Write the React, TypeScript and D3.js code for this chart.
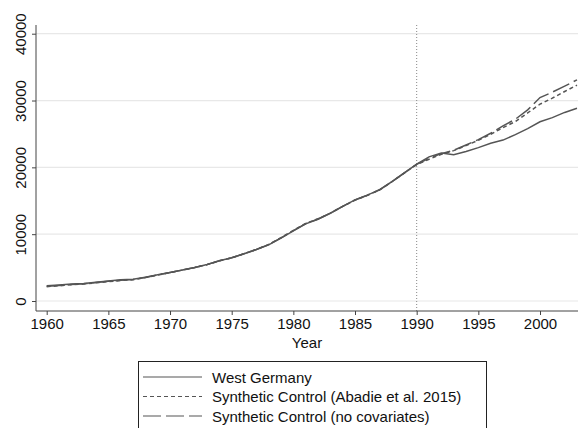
import { useRef, useEffect } from 'react';
import * as d3 from 'd3';

const years = d3.range(1960, 2004);

// GDP per capita, West Germany (observed)
const westGermany = [
  2284, 2388, 2527, 2610, 2806, 3005, 3168, 3241, 3571, 3935,
  4275, 4646, 5010, 5453, 6025, 6470, 7063, 7705, 8409, 9418,
  10497, 11545, 12242, 13128, 14162, 15140, 15845, 16657, 17872, 19188,
  20468, 21566, 22139, 21881, 22382, 22955, 23617, 24079, 24901, 25786,
  26816, 27437, 28218, 28855,
];

// Synthetic control, Abadie et al. (2015)
const synthAbadie = [
  2150, 2280, 2420, 2540, 2720, 2900, 3060, 3180, 3500, 3880,
  4250, 4620, 5000, 5440, 6010, 6460, 7060, 7720, 8460, 9480,
  10560, 11600, 12300, 13150, 14150, 15100, 15800, 16620, 17850, 19150,
  20420, 21200, 21950, 22500, 23250, 24050, 24950, 25950, 26850, 28150,
  29450, 30350, 31350, 32300,
];

// Synthetic control, no covariates
const synthNoCov = [
  2200, 2330, 2470, 2580, 2760, 2950, 3110, 3210, 3530, 3900,
  4260, 4630, 5005, 5445, 6015, 6465, 7060, 7710, 8430, 9440,
  10520, 11570, 12270, 13140, 14160, 15120, 15830, 16640, 17860, 19170,
  20450, 21350, 22050, 22550, 23350, 24150, 25100, 26200, 27200, 28600,
  30450, 31250, 32150, 33100,
];

const yTicks = [0, 10000, 20000, 30000, 40000];
const xTicks = [1960, 1965, 1970, 1975, 1980, 1985, 1990, 1995, 2000];
const treatmentYear = 1990;

const seriesList = [
  { name: 'West Germany', values: westGermany, dash: null as string | null },
  { name: 'Synthetic Control (Abadie et al. 2015)', values: synthAbadie, dash: '4,3' },
  { name: 'Synthetic Control (no covariates)', values: synthNoCov, dash: '18,5' },
];

const FONT = '"Liberation Sans", Arial, Helvetica, sans-serif';
const LINE_COLOR = '#555555';

export default function App() {
  const svgRef = useRef<SVGSVGElement>(null);

  useEffect(() => {
    if (!svgRef.current) return;
    document.body.style.margin = '0';
    const svg = d3.select(svgRef.current);
    svg.selectAll('*').remove();

    const width = 580;
    const height = 428;
    svg.attr('width', width).attr('height', height);

    const xScale = d3.scaleLinear().domain([1960, 2003]).range([46.7, 577]);
    const yScale = d3.scaleLinear().domain([0, 40000]).range([301, 33.7]);
    const plotLeft = 36;
    const plotRight = 578;
    const plotTop = 25;
    const plotBottom = 311;

    svg.append('rect').attr('width', width).attr('height', height).attr('fill', '#fff');

    // gridlines
    svg.append('g')
      .selectAll('line')
      .data(yTicks)
      .join('line')
      .attr('x1', plotLeft)
      .attr('x2', plotRight)
      .attr('y1', (d) => yScale(d))
      .attr('y2', (d) => yScale(d))
      .attr('stroke', '#e8e8e8')
      .attr('stroke-width', 1.2);

    // treatment line
    svg.append('line')
      .attr('x1', xScale(treatmentYear))
      .attr('x2', xScale(treatmentYear))
      .attr('y1', plotTop)
      .attr('y2', plotBottom)
      .attr('stroke', '#888')
      .attr('stroke-width', 1)
      .attr('stroke-dasharray', '1,2');

    // series
    const line = d3
      .line<number>()
      .x((_, i) => xScale(years[i]))
      .y((d) => yScale(d));

    seriesList.forEach((s) => {
      svg.append('path')
        .datum(s.values)
        .attr('d', line)
        .attr('fill', 'none')
        .attr('stroke', LINE_COLOR)
        .attr('stroke-width', 1.5)
        .attr('stroke-dasharray', s.dash);
    });

    // y axis
    const yAxis = d3.axisLeft(yScale).tickValues(yTicks).tickSize(4).tickPadding(4).tickFormat(d3.format('d'));
    const gy = svg.append('g').attr('transform', `translate(${plotLeft},0)`).call(yAxis);
    gy.select('.domain').attr('d', `M-4,${plotTop}H0V${plotBottom}`).attr('stroke', '#444');
    gy.select('.domain').attr('d', `M0,${plotTop}V${plotBottom}`);
    gy.selectAll('.tick line').attr('stroke', '#444');
    gy.selectAll('.tick text')
      .attr('font-family', FONT)
      .attr('font-size', 15)
      .attr('fill', '#111')
      .attr('x', null)
      .attr('dy', null)
      .attr('text-anchor', 'middle')
      .attr('transform', 'translate(-10,0) rotate(-90)');

    // x axis
    const xAxis = d3.axisBottom(xScale).tickValues(xTicks).tickSize(4).tickPadding(3).tickFormat(d3.format('d'));
    const gx = svg.append('g').attr('transform', `translate(0,${plotBottom})`).call(xAxis);
    gx.select('.domain').attr('d', `M${plotLeft},0H${plotRight}`).attr('stroke', '#444');
    gx.selectAll('.tick line').attr('stroke', '#444');
    gx.selectAll('.tick text')
      .attr('font-family', FONT)
      .attr('font-size', 15)
      .attr('fill', '#111');

    svg.append('text')
      .attr('x', (plotLeft + plotRight) / 2)
      .attr('y', 348)
      .attr('text-anchor', 'middle')
      .attr('font-family', FONT)
      .attr('font-size', 15)
      .attr('fill', '#111')
      .text('Year');

    // legend
    const legend = svg.append('g');
    legend.append('rect')
      .attr('x', 138.5)
      .attr('y', 361.5)
      .attr('width', 348)
      .attr('height', 80)
      .attr('fill', '#fff')
      .attr('stroke', '#222')
      .attr('stroke-width', 1);

    seriesList.forEach((s, i) => {
      const cy = 377 + i * 19.5;
      legend.append('line')
        .attr('x1', 143)
        .attr('x2', 202)
        .attr('y1', cy)
        .attr('y2', cy)
        .attr('stroke', LINE_COLOR)
        .attr('stroke-width', 1.2)
        .attr('stroke-dasharray', s.dash);
      legend.append('text')
        .attr('x', 212)
        .attr('y', cy + 5.5)
        .attr('font-family', FONT)
        .attr('font-size', 15)
        .attr('fill', '#111')
        .text(s.name);
    });
  }, []);

  return <svg ref={svgRef} style={{ display: 'block' }} />;
}
